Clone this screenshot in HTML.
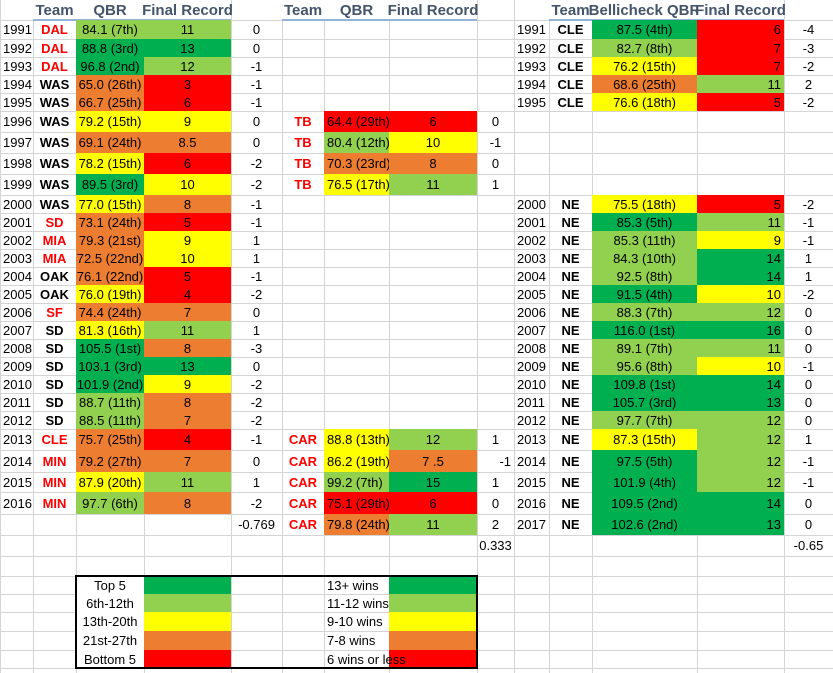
<!DOCTYPE html>
<html><head><meta charset="utf-8"><style>
body{margin:0;background:#fff;}
#sheet{position:relative;width:833px;height:673px;overflow:hidden;font-family:"Liberation Sans",sans-serif;font-size:13px;color:#000;}
.c{position:absolute;box-sizing:border-box;white-space:nowrap;display:flex;align-items:center;}
.gl{position:absolute;background:#d4d4d4;}
</style></head><body>
<div id="sheet"></div>
<script>
const colX=[0,33,76,144,231,282,324,389,477,514,549,592,697,784,833];
const rowY=[0,20,39,57,75,93,111,132,153,174,195,213,231,249,267,285,303,321,339,357,375,393,411,429,450,472,492,514,535,556,576,594,612,631,650,668,673];
const FILL={G:'#00b050',L:'#92d050',Y:'#ffff00',O:'#ed7d31',R:'#ff0000'};
// [year, team, red?, qbr, qbrColor, record, recColor, diff]
const leftRows=[
[1991,'DAL',1,'84.1 (7th)','L','11','L','0'],
[1992,'DAL',1,'88.8 (3rd)','G','13','G','0'],
[1993,'DAL',1,'96.8 (2nd)','G','12','L','-1'],
[1994,'WAS',0,'65.0 (26th)','O','3','R','-1'],
[1995,'WAS',0,'66.7 (25th)','O','6','R','-1'],
[1996,'WAS',0,'79.2 (15th)','Y','9','Y','0'],
[1997,'WAS',0,'69.1 (24th)','O','8.5','O','0'],
[1998,'WAS',0,'78.2 (15th)','Y','6','R','-2'],
[1999,'WAS',0,'89.5 (3rd)','G','10','Y','-2'],
[2000,'WAS',0,'77.0 (15th)','Y','8','O','-1'],
[2001,'SD',1,'73.1 (24th)','O','5','R','-1'],
[2002,'MIA',1,'79.3 (21st)','O','9','Y','1'],
[2003,'MIA',1,'72.5 (22nd)','O','10','Y','1'],
[2004,'OAK',0,'76.1 (22nd)','O','5','R','-1'],
[2005,'OAK',0,'76.0 (19th)','Y','4','R','-2'],
[2006,'SF',1,'74.4 (24th)','O','7','O','0'],
[2007,'SD',0,'81.3 (16th)','Y','11','L','1'],
[2008,'SD',0,'105.5 (1st)','G','8','O','-3'],
[2009,'SD',0,'103.1 (3rd)','G','13','G','0'],
[2010,'SD',0,'101.9 (2nd)','G','9','Y','-2'],
[2011,'SD',0,'88.7 (11th)','L','8','O','-2'],
[2012,'SD',0,'88.5 (11th)','L','7','O','-2'],
[2013,'CLE',1,'75.7 (25th)','O','4','R','-1'],
[2014,'MIN',1,'79.2 (27th)','O','7','O','0'],
[2015,'MIN',1,'87.9 (20th)','Y','11','L','1'],
[2016,'MIN',1,'97.7 (6th)','L','8','O','-2']];
const midRows=[
[1996,'TB',1,'64.4 (29th)','R','6','R','0'],
[1997,'TB',1,'80.4 (12th)','L','10','Y','-1'],
[1998,'TB',1,'70.3 (23rd)','O','8','O','0'],
[1999,'TB',1,'76.5 (17th)','Y','11','L','1'],
[2013,'CAR',1,'88.8 (13th)','Y','12','L','1'],
[2014,'CAR',1,'86.2 (19th)','Y','7 .5','O','-1'],
[2015,'CAR',1,'99.2 (7th)','L','15','G','1'],
[2016,'CAR',1,'75.1 (29th)','R','6','R','0'],
[2017,'CAR',1,'79.8 (24th)','O','11','L','2']];
const rightRows=[
[1991,'CLE',0,'87.5 (4th)','G','6','R','-4'],
[1992,'CLE',0,'82.7 (8th)','L','7','R','-3'],
[1993,'CLE',0,'76.2 (15th)','Y','7','R','-2'],
[1994,'CLE',0,'68.6 (25th)','O','11','L','2'],
[1995,'CLE',0,'76.6 (18th)','Y','5','R','-2'],
[2000,'NE',0,'75.5 (18th)','Y','5','R','-2'],
[2001,'NE',0,'85.3 (5th)','G','11','L','-1'],
[2002,'NE',0,'85.3 (11th)','L','9','Y','-1'],
[2003,'NE',0,'84.3 (10th)','L','14','G','1'],
[2004,'NE',0,'92.5 (8th)','L','14','G','1'],
[2005,'NE',0,'91.5 (4th)','G','10','Y','-2'],
[2006,'NE',0,'88.3 (7th)','L','12','L','0'],
[2007,'NE',0,'116.0 (1st)','G','16','G','0'],
[2008,'NE',0,'89.1 (7th)','L','11','L','0'],
[2009,'NE',0,'95.6 (8th)','L','10','Y','-1'],
[2010,'NE',0,'109.8 (1st)','G','14','G','0'],
[2011,'NE',0,'105.7 (3rd)','G','13','G','0'],
[2012,'NE',0,'97.7 (7th)','L','12','L','0'],
[2013,'NE',0,'87.3 (15th)','Y','12','L','1'],
[2014,'NE',0,'97.5 (5th)','G','12','L','-1'],
[2015,'NE',0,'101.9 (4th)','G','12','L','-1'],
[2016,'NE',0,'109.5 (2nd)','G','14','G','0'],
[2017,'NE',0,'102.6 (2nd)','G','13','G','0']];
const averages=['-0.769','0.333','-0.65'];
const legendRank=[['Top 5','G'],['6th-12th','L'],['13th-20th','Y'],['21st-27th','O'],['Bottom 5','R']];
const legendWins=[['13+ wins','G'],['11-12 wins','L'],['9-10 wins','Y'],['7-8 wins','O'],['6 wins or less','R']];

const S=document.getElementById('sheet');
function rowOf(y){return y-1990;}
function cell(col,row,text,name,opt){
  opt=opt||{};
  const el=document.createElement('div');
  el.className='c';
  const x0=colX[col],x1=colX[col+(opt.span||1)],y0=rowY[row],y1=rowY[row+1];
  el.style.left=x0+'px';el.style.top=y0+'px';el.style.width=(x1-x0)+'px';el.style.height=(y1-y0)+'px';
  if(opt.fill)el.style.background=opt.fill;
  el.style.justifyContent=opt.align==='left'?'flex-start':opt.align==='right'?'flex-end':'center';
  el.style.padding='0 3px';
  if(opt.bold)el.style.fontWeight='bold';
  if(opt.color)el.style.color=opt.color;
  if(opt.size)el.style.fontSize=opt.size;
  if(opt.overflow)el.style.overflow='visible';
  el.textContent=text;
  
  
  S.appendChild(el);return el;
}
// gridlines
for(let i=0;i<colX.length;i++){const g=document.createElement('div');g.className='gl';g.style.left=colX[i]+'px';g.style.top='0px';g.style.width='1px';g.style.height='673px';


S.appendChild(g);}
for(let i=1;i<rowY.length;i++){const g=document.createElement('div');g.className='gl';g.style.left='0px';g.style.top=rowY[i]+'px';g.style.width='833px';g.style.height='1px';


S.appendChild(g);}
// headers
const hdr={bold:true,color:'#44546a',size:'15px'};
function headers(c0,labels){labels.forEach((t,i)=>cell(c0+i,0,t,'header-'+t.toLowerCase().replace(/ /g,'-'),Object.assign({fill:'#fff'},hdr)));}
headers(1,['Team','QBR','Final Record']);
headers(5,['Team','QBR','Final Record']);
headers(10,['Team','Bellicheck QBR','Final Record']);
[[33,231],[282,477],[549,784]].forEach(([a,b])=>{const l=document.createElement('div');l.style.cssText='position:absolute;top:19px;height:2px;background:#95b3d7;left:'+a+'px;width:'+(b-a)+'px';


S.appendChild(l);});
// left table
leftRows.forEach(r=>{const row=rowOf(r[0]);
  cell(0,row,String(r[0]),'year-'+r[0],{align:'left'});
  cell(1,row,r[1],'team',{bold:true,color:r[2]?'#ff0000':'#000'});
  cell(2,row,r[3],'qbr',{fill:FILL[r[4]]});
  cell(3,row,r[5],'record',{fill:FILL[r[6]]});
  cell(4,row,r[7],'win-diff');});
cell(4,27,averages[0],'average-left');
// middle
midRows.forEach(r=>{const row=rowOf(r[0]);
  cell(5,row,r[1],'team',{bold:true,color:'#ff0000'});
  cell(6,row,r[3],'qbr',{fill:FILL[r[4]],align:'left'});
  cell(7,row,r[5],'record',{fill:FILL[r[6]]});
  cell(8,row,r[7],'win-diff',{align:r[0]===2014?'right':'center'});});
cell(8,28,averages[1],'average-middle');
[1991,1992,1993,1994,1995].forEach(y=>cell(9,rowOf(y),String(y),'year-'+y,{align:'left'}));
// right
rightRows.forEach(r=>{const row=rowOf(r[0]);
  if(r[0]>=2000)cell(9,row,String(r[0]),'year-'+r[0],{align:'left'});
  cell(10,row,r[1],'team',{bold:true});
  cell(11,row,r[3],'qbr',{fill:FILL[r[4]]});
  cell(12,row,r[5],'record',{fill:FILL[r[6]],align:'right'});
  cell(13,row,r[7],'win-diff');});
cell(13,28,averages[2],'average-right');
// legend
legendRank.forEach((l,i)=>{cell(2,30+i,l[0],'legend-rank-label',{fill:'#fff'});cell(3,30+i,'','legend-rank-swatch',{fill:FILL[l[1]]});});
legendWins.forEach((l,i)=>{cell(7,30+i,'','legend-wins-swatch',{fill:FILL[l[1]]});const e=cell(6,30+i,l[0],'legend-wins-label',{align:'left'});e.style.overflow='visible';});
const box=document.createElement('div');box.style.cssText='position:absolute;left:75px;top:575px;width:403px;height:94px;border:2px solid #000;box-sizing:border-box;';


S.appendChild(box);
</script>
</body></html>
